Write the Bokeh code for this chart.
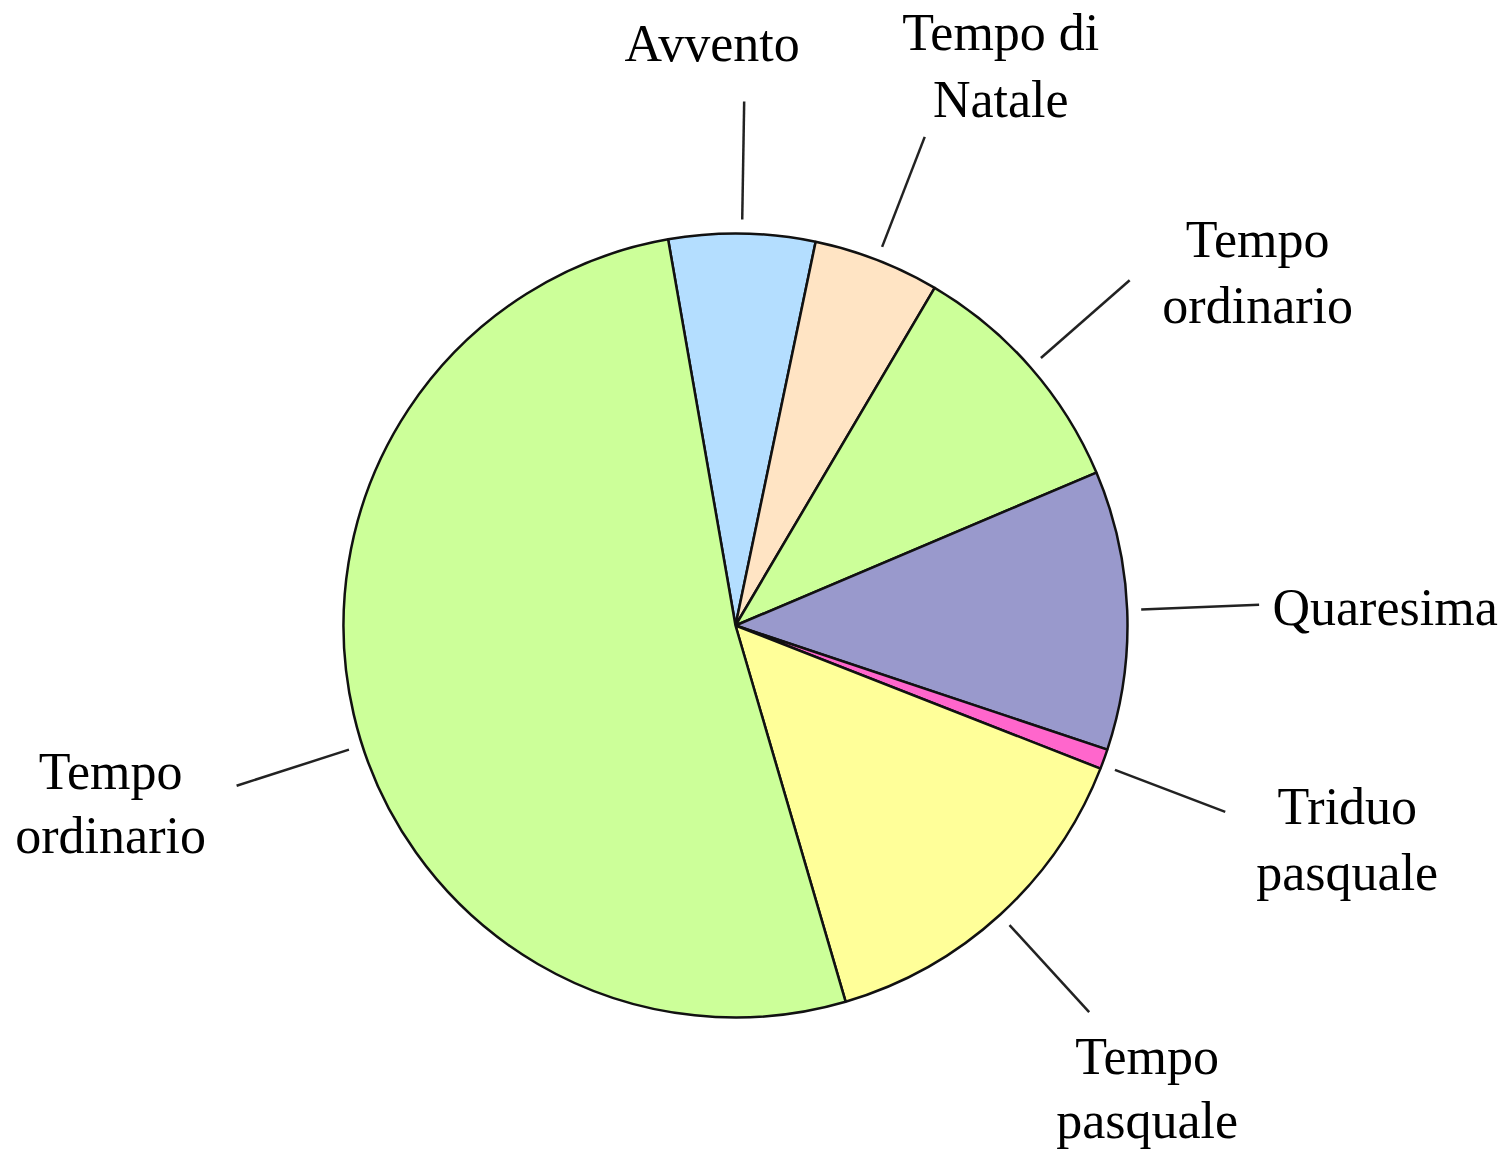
import numpy as np
from bokeh.plotting import figure
from bokeh.models import Range1d, ColumnDataSource
from bokeh.core.properties import value
from bokeh.embed import file_html
from bokeh.resources import INLINE

# ---- data (days of the liturgical year) ----
labels = ["Avvento", "Tempo di\nNatale", "Tempo\nordinario", "Quaresima",
          "Triduo\npasquale", "Tempo\npasquale", "Tempo\nordinario"]
days = [22, 19, 37, 42, 3, 53, 189]
colors = ["#B4DEFF", "#FFE4C4", "#CCFF99", "#9999CC", "#FF66CC", "#FFFF99", "#CCFF99"]

# ---- layout ----
W, H = 1508, 1151
OFF = 0                    # page offset of the canvas
CX, CY = 735, 625          # pie centre on the page (px)
R = 392                    # pie radius (px)
START = -9.9               # clockwise degrees from 12 o'clock where first slice starts
LEAD_R0, LEAD_R1 = 406, 524
lead_nudge = [0, 0, 0, 0, 0.9, 0, -4.7]           # degrees
label_dx = [-32, 76, 128, 126, 122, 58, -126]     # label centre x offset from leader end
label_dy = [-42, -88, -25, 19, 11, 60, 2]         # first baseline offset (down) from leader end
line_h = [66, 67, 66, 66, 66, 64, 64]
BASE_FIX = -16
FONT = "Liberation Serif"
FONT_SIZE = "52px"

vals = np.array(days, dtype=float)
ang = vals / vals.sum() * 360.0
ends = START + np.cumsum(ang)
starts = ends - ang
mids = (starts + ends) / 2.0

p = figure(width=W, height=H, output_backend="svg", toolbar_location=None,
           x_axis_location=None, y_axis_location=None,
           x_range=Range1d(OFF - CX, OFF + W - CX), y_range=Range1d(CY - (OFF + H), CY - OFF))
p.min_border = 0
p.grid.visible = False
p.outline_line_color = None
p.background_fill_color = "white"
p.border_fill_color = "white"

src = ColumnDataSource(dict(
    start=(90.0 - ends), end=(90.0 - starts), color=colors))
p.wedge(x=0, y=0, radius=R, start_angle="start", end_angle="end",
        start_angle_units="deg", end_angle_units="deg",
        fill_color="color", line_color="#111111", line_width=2.5, source=src)

# leader lines
la = np.radians(mids + np.array(lead_nudge))
sx, sy = np.sin(la), np.cos(la)
x0, y0 = LEAD_R0 * sx, LEAD_R0 * sy
x1, y1 = LEAD_R1 * sx, LEAD_R1 * sy
p.segment(x0=x0, y0=y0, x1=x1, y1=y1, line_color="#222222", line_width=2.5)

# labels
tx, ty, tt = [], [], []
for i, lab in enumerate(labels):
    for k, line in enumerate(lab.split("\n")):
        tx.append(x1[i] + label_dx[i])
        ty.append(y1[i] - (label_dy[i] + BASE_FIX) - k * line_h[i])
        tt.append(line)
p.text(x=tx, y=ty, text=tt, text_font=value(FONT), text_font_size=FONT_SIZE,
       text_color="black", text_align="center", text_baseline="alphabetic")

open("out.html", "w").write(file_html(p, INLINE))
